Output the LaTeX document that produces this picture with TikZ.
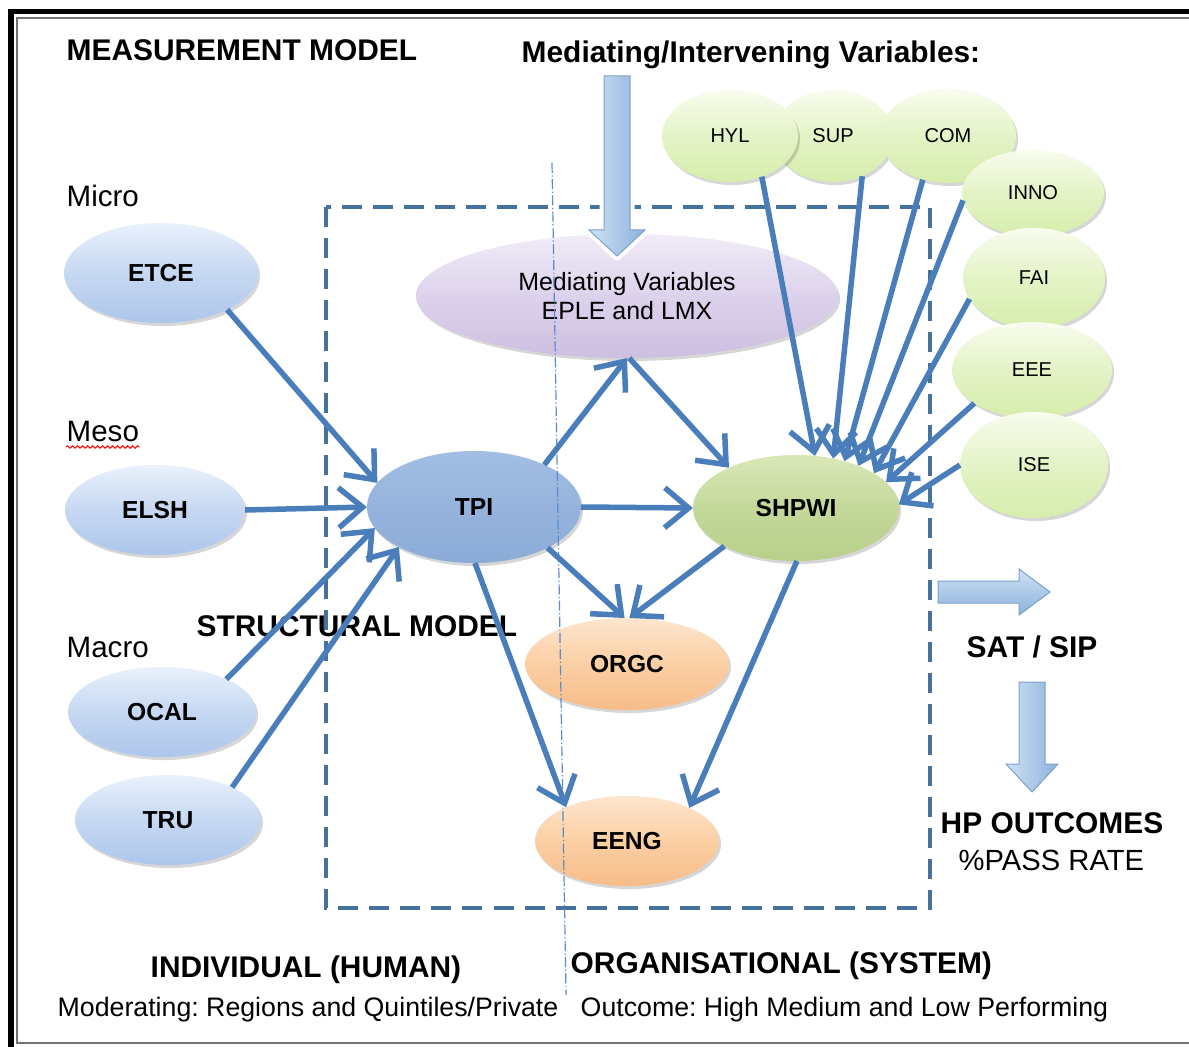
\documentclass[tikz,border=0pt]{standalone}
\usepackage{fontspec}
\setmainfont{Liberation Sans}
\usetikzlibrary{arrows.meta,shapes.geometric,shadows,decorations.pathmorphing}

\definecolor{linkblue}{HTML}{4A7EBB}
\definecolor{boxblue}{HTML}{44729D}
\definecolor{splitblue}{HTML}{5A8AD0}
\definecolor{bTop}{HTML}{E9F1FC}
\definecolor{bMid}{HTML}{C6D8F2}
\definecolor{bBot}{HTML}{ADC6EC}
\definecolor{tTop}{HTML}{A3BEE3}
\definecolor{tMid}{HTML}{95B3DC}
\definecolor{tBot}{HTML}{8CACD8}
\definecolor{sTop}{HTML}{DAE8B8}
\definecolor{sMid}{HTML}{C4D89A}
\definecolor{sBot}{HTML}{B8CF8A}
\definecolor{gTop}{HTML}{F8FCEE}
\definecolor{gMid}{HTML}{E4F3C6}
\definecolor{gBot}{HTML}{D6EDAC}
\definecolor{oTop}{HTML}{FDE6CE}
\definecolor{oMid}{HTML}{FBCFA4}
\definecolor{oBot}{HTML}{F7BC88}
\definecolor{pTop}{HTML}{F1ECF7}
\definecolor{pMid}{HTML}{DDD2EC}
\definecolor{pBot}{HTML}{CDBFE0}
\definecolor{arLeft}{HTML}{CDE2F6}
\definecolor{arRight}{HTML}{8DB1DA}
\definecolor{arEdge}{HTML}{7EA1CB}

\begin{document}
\frenchspacing
\begin{tikzpicture}[x=0.01cm, y=-0.01cm,
  oval/.style={ellipse, inner sep=0pt, outer sep=0pt, text=black,
    drop shadow={fill=black, opacity=0.16, shadow xshift=0.02cm, shadow yshift=-0.03cm}},
  bluefill/.style={top color=bTop, bottom color=bBot, middle color=bMid},
  tpifill/.style={top color=tTop, bottom color=tBot, middle color=tMid},
  olivefill/.style={top color=sTop, bottom color=sBot, middle color=sMid},
  greenfill/.style={top color=gTop, bottom color=gBot, middle color=gMid},
  orangefill/.style={top color=oTop, bottom color=oBot, middle color=oMid},
  purplefill/.style={top color=pTop, bottom color=pBot, middle color=pMid},
  boldtag/.style={font=\fontsize{7}{8}\selectfont\bfseries},
  smalltag/.style={font=\fontsize{5.7}{7}\selectfont},
  link/.style={draw=linkblue, line width=0.055cm, -{Straight Barb[length=0.24cm,width=0.4cm]}},
  headtext/.style={anchor=base west, inner sep=0pt, font=\fontsize{8.5}{10}\selectfont\bfseries},
  bodytext/.style={anchor=base west, inner sep=0pt, font=\fontsize{8.4}{10}\selectfont},
  foottext/.style={anchor=base west, inner sep=0pt, font=\fontsize{7.6}{9}\selectfont},
  blockarrow/.style={left color=arLeft, right color=arRight, draw=arEdge, line width=0.01cm,
    preaction={draw=white, line width=0.09cm, line join=round}},
  blockarrowh/.style={top color=arLeft, bottom color=arRight, draw=arEdge, line width=0.01cm,
    preaction={draw=white, line width=0.09cm, line join=round}}
]
\useasboundingbox (0,0) rectangle (1189,1046);

% double frame, open on the right
\begin{scope}
  \clip (0,0) rectangle (1189,1046);
  \draw[black, line width=0.05cm] (11,12) rectangle (1260,1110);
  \draw[black!55, line width=0.02cm] (17,18.5) rectangle (1260,1043);
\end{scope}

% structural model frame
\draw[boxblue, line width=0.04cm, dash pattern=on 0.2cm off 0.11cm] (326,207) rectangle (930,908);

% headings
\node[headtext] (hMeas) at (66,61) {MEASUREMENT MODEL};
\node[headtext] (hMed) at (521,63) {Mediating/Intervening Variables:};
\node[bodytext] (micro) at (66,207) {Micro};
\node[bodytext] (meso) at (66,441) {Meso};
\node[bodytext] (macro) at (66,657) {Macro};
\draw[red, line width=0.01cm, decorate, decoration={snake, amplitude=0.012cm, segment length=0.05cm}]
  ([yshift=-0.05cm]meso.south west) -- ([yshift=-0.05cm]meso.south east);
\node[headtext] (hStruct) at (196,636) {STRUCTURAL MODEL};
\node[headtext] (hSat) at (966,657) {SAT / SIP};
\node[headtext] (hHp) at (940,833) {HP OUTCOMES};
\node[bodytext, font=\fontsize{8.3}{10}\selectfont] (hPass) at (958,870) {\%PASS RATE};
\node[headtext] (hInd) at (150,977) {INDIVIDUAL (HUMAN)};
\node[headtext] (hOrg) at (570,973) {ORGANISATIONAL (SYSTEM)};
\node[foottext] (fMod) at (57,1016) {Moderating: Regions and Quintiles/Private};
\node[foottext] (fOut) at (580,1016) {Outcome: High Medium and Low Performing};

% exogenous constructs
\node[oval, bluefill, minimum width=1.94cm, minimum height=1.00cm, boldtag] (etce) at (161,273) {ETCE};
\node[oval, bluefill, minimum width=1.80cm, minimum height=0.90cm, boldtag] (elsh) at (155,510) {ELSH};
\node[oval, bluefill, minimum width=1.88cm, minimum height=0.90cm, boldtag] (ocal) at (162,712) {OCAL};
\node[oval, bluefill, minimum width=1.86cm, minimum height=0.90cm, boldtag] (tru) at (168,820) {TRU};

% structural constructs
\node[oval, tpifill, minimum width=2.14cm, minimum height=1.12cm, boldtag] (tpi) at (474,507) {TPI};
\node[oval, olivefill, minimum width=2.06cm, minimum height=1.06cm, boldtag] (shpwi) at (796,508) {SHPWI};
\node[oval, orangefill, minimum width=2.04cm, minimum height=0.92cm, boldtag] (orgc) at (627,664) {ORGC};
\node[oval, orangefill, minimum width=1.84cm, minimum height=0.90cm, boldtag] (eeng) at (627,841) {EENG};
\node[oval, purplefill, minimum width=4.22cm, minimum height=1.24cm, align=center,
  font=\fontsize{7.1}{8.3}\selectfont] (med) at (627,296) {Mediating Variables\\EPLE and LMX};

% intervening variables
\node[oval, greenfill, minimum width=1.20cm, minimum height=0.92cm, smalltag] (sup) at (833,136) {SUP};
\node[oval, greenfill, minimum width=1.36cm, minimum height=0.92cm, smalltag] (hyl) at (730,136) {HYL};
\node[oval, greenfill, minimum width=1.36cm, minimum height=0.94cm, smalltag] (com) at (948,136) {COM};
\node[oval, greenfill, minimum width=1.42cm, minimum height=0.86cm, smalltag] (inno) at (1033,193) {INNO};
\node[oval, greenfill, minimum width=1.42cm, minimum height=1.00cm, smalltag] (fai) at (1034,278) {FAI};
\node[oval, greenfill, minimum width=1.60cm, minimum height=0.96cm, smalltag] (eee) at (1032,370) {EEE};
\node[oval, greenfill, minimum width=1.48cm, minimum height=1.06cm, smalltag] (ise) at (1034,465) {ISE};

% individual / organisational divide
\coordinate (splitTop) at (552,163);
\coordinate (splitBot) at (566,995);
\draw[splitblue, line width=0.012cm, dash pattern=on 0.1cm off 0.025cm on 0.012cm off 0.025cm] (splitTop) -- (splitBot);

% paths
\draw[link] (etce.-29) -- (tpi.166);
\draw[link] (elsh.0) -- (tpi.180);
\draw[link] (ocal.27) -- (tpi.192);
\draw[link] (tru.27) -- (tpi.-152);
\draw[link] (tpi.31) -- (med.-90);
\draw[link] (med.-88) -- (shpwi.149);
\draw[link] (tpi.0) -- (shpwi.180);
\draw[link] (tpi.-29) -- (orgc.93);
\draw[link] (shpwi.-152) -- (orgc.87);
\draw[link] (tpi.-89) -- (eeng.151);
\draw[link] (shpwi.-89) -- (eeng.28);
\draw[link] (hyl.-52) -- (shpwi.70);
\draw[link] (sup.-54) -- (shpwi.53);
\draw[link] (com.-120) -- (shpwi.44);
\draw[link] (inno.-174) -- (shpwi.34);
\draw[link] (fai.-162) -- (shpwi.24);
\draw[link] (eee.-150) -- (shpwi.16);
\draw[link] (ise.180) -- (shpwi.2);

% block arrows
\path[blockarrow] (604,76) -- (630,76) -- (630,230) -- (645,230) -- (617,256)
  -- (589,230) -- (604,230) -- cycle;
\path[blockarrowh] (938,581) -- (1019,581) -- (1019,569) -- (1050,592) -- (1019,615)
  -- (1019,603) -- (938,603) -- cycle;
\path[blockarrow] (1019,682) -- (1045,682) -- (1045,764) -- (1058,764) -- (1032,792)
  -- (1006,764) -- (1019,764) -- cycle;
\end{tikzpicture}
\end{document}
